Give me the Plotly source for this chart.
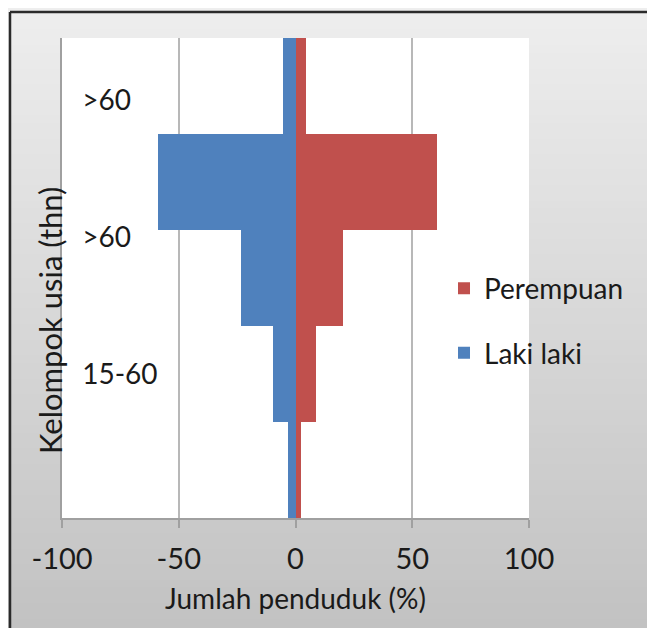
import plotly.graph_objects as go

# Data (position 4 = top bar)
positions = [0, 1, 2, 3, 4]
laki_laki = [-3.3, -9.5, -23.5, -59, -5.5]
perempuan = [2.5, 8.8, 20.5, 60.5, 4.7]
y_tick_pos = [3.85, 2.42, 1.0]
y_tick_text = [">60", ">60", "15-60"]
x_ticks = [-100, -50, 0, 50, 100]
y_title = "Kelompok usia (thn)"

# page has an 8px body offset -> compensate
W, H = 647, 620
L, R, T, B = 54, 126, 30, 110
PW, PH = W - L - R, H - T - B
FONT = "Lato"
TXT = "#1a1a1a"

fig = go.Figure()
fig.add_trace(go.Bar(y=positions, x=perempuan, orientation="h", name="Perempuan",
                     marker=dict(color="#C0504D", line=dict(width=0)), width=1,
                     legendgroup="p", yaxis="y"))
fig.add_trace(go.Bar(y=positions, x=laki_laki, orientation="h", name="Laki laki",
                     marker=dict(color="#4F81BD", line=dict(width=0)), width=1,
                     legendgroup="l", yaxis="y"))
# helper (invisible) trace so the label axis is drawn
fig.add_trace(go.Scatter(x=[0], y=[positions[0]], yaxis="y2", mode="markers",
                         marker=dict(opacity=0), showlegend=False, hoverinfo="skip"))

shapes = []
n = 80
top_c, bot_c = 0xEE, 0xC2
ytop = 1 + T / PH
ybot = -B / PH
for i in range(n):
    y0 = ytop - (ytop - ybot) * i / n
    y1 = ytop - (ytop - ybot) * (i + 1) / n
    c = round(top_c + (bot_c - top_c) * (i + 0.5) / n)
    shapes.append(dict(type="rect", xref="paper", yref="paper",
                       x0=-L / PW - 0.02, x1=1 + R / PW + 0.02, y0=y1 - 0.003, y1=y0 + 0.003,
                       fillcolor=f"rgb({c},{c},{c})", line=dict(width=0), layer="below"))
shapes.append(dict(type="rect", xref="x domain", yref="y domain", x0=0, x1=1, y0=0, y1=1,
                   fillcolor="white", line=dict(width=0), layer="below"))
bx = (2 - L) / PW
by = (H - B - 4) / PH
shapes.append(dict(type="line", xref="paper", yref="paper", x0=bx, x1=1 + R / PW + 0.02,
                   y0=by, y1=by, line=dict(color="#2a2a2a", width=2.5)))
shapes.append(dict(type="line", xref="paper", yref="paper", x0=bx, x1=bx,
                   y0=by, y1=ybot - 0.02, line=dict(color="#2a2a2a", width=2.5)))

annotations = [dict(text=y_title, textangle=-90, xref="paper", yref="paper",
                    x=(50 - 62) / PW, y=(518 - 321) / PH, xanchor="center", yanchor="middle",
                    showarrow=False, font=dict(size=31, color=TXT, family=FONT))]

fig.update_layout(
    width=W, height=H,
    margin=dict(l=L, r=R, t=T, b=B, autoexpand=False),
    paper_bgcolor="#d8d8d8",
    plot_bgcolor="white",
    barmode="relative",
    bargap=0,
    shapes=shapes,
    annotations=annotations,
    font=dict(family=FONT, size=28, color=TXT),
    xaxis=dict(range=[-100, 100], tickvals=x_ticks, ticktext=[str(v) for v in x_ticks],
               showgrid=True, gridcolor="#b8b8b8", gridwidth=2,
               showline=True, linecolor="#a0a0a0", linewidth=2,
               ticks="outside", ticklen=8, tickcolor="#a0a0a0", tickwidth=2,
               ticklabelstandoff=6, zeroline=False, tickfont=dict(size=29),
               title=dict(text="Jumlah penduduk (%)", font=dict(size=28), standoff=16)),
    yaxis=dict(range=[-0.5, 4.5], showticklabels=False,
               showgrid=False, zeroline=False, showline=True, linecolor="#a0a0a0", linewidth=2,
               ticks=""),
    yaxis2=dict(range=[-0.5, 4.5], overlaying="y", side="right", anchor="free",
                position=(84 - 62) / PW - 0.006, tickvals=y_tick_pos, ticktext=y_tick_text,
                ticks="", showgrid=False, zeroline=False, showline=False,
                tickfont=dict(size=28)),
    legend=dict(x=0.818, y=0.53, xanchor="left", yanchor="top",
                bgcolor="rgba(0,0,0,0)", font=dict(size=28),
                traceorder="grouped", tracegroupgap=25),
    showlegend=True,
)

fig.write_html("out.html")
